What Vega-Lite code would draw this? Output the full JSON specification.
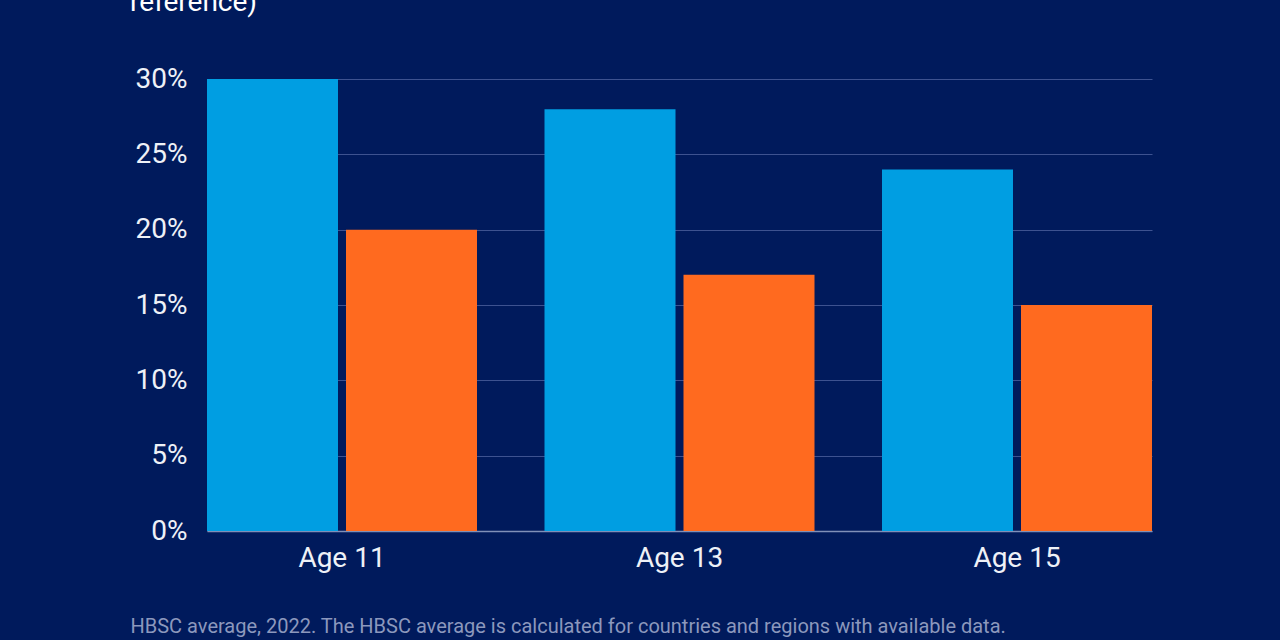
{
  "$schema": "https://vega.github.io/schema/vega-lite/v6.json",
  "width": 945,
  "height": 452,
  "autosize": {"type": "none"},
  "padding": {"left": 207, "top": 79, "right": 128, "bottom": 109},
  "background": "#001a5c",
  "title": {
    "text": "reference)",
    "anchor": "start",
    "frame": "group",
    "dx": -77,
    "offset": 26,
    "baseline": "alphabetic",
    "font": "Roboto",
    "fontSize": 28,
    "fontWeight": "normal",
    "color": "#ffffff"
  },
  "data": {
    "values": [
      {"age": "Age 11", "group": "A", "value": 30},
      {"age": "Age 11", "group": "B", "value": 20},
      {"age": "Age 13", "group": "A", "value": 28},
      {"age": "Age 13", "group": "B", "value": 17},
      {"age": "Age 15", "group": "A", "value": 24},
      {"age": "Age 15", "group": "B", "value": 15}
    ]
  },
  "mark": {"type": "bar"},
  "encoding": {
    "x": {
      "field": "age",
      "type": "nominal",
      "scale": {"paddingInner": 0.2, "paddingOuter": 0},
      "axis": {
        "title": "HBSC average, 2022. The HBSC average is calculated for countries and regions with available data.",
        "titleAnchor": "start",
        "titleAlign": "left",
        "titleX": -77,
        "titleY": 101,
        "titleBaseline": "alphabetic",
        "titleFont": "Roboto",
        "titleFontSize": 20,
        "titleFontWeight": "normal",
        "titleColor": "#8c98bd",
        "labelAngle": 0,
        "labelFont": "Roboto",
        "labelFontSize": 28,
        "labelColor": "#eef1f7",
        "labelPadding": 13,
        "ticks": false,
        "domainColor": "#8090b8",
        "domainWidth": 1.5
      }
    },
    "xOffset": {
      "field": "group",
      "type": "nominal",
      "scale": {"paddingInner": 0.0576, "paddingOuter": 0}
    },
    "y": {
      "field": "value",
      "type": "quantitative",
      "scale": {"domain": [0, 30]},
      "axis": {
        "title": null,
        "values": [0, 5, 10, 15, 20, 25, 30],
        "labelExpr": "datum.value + '%'",
        "labelFont": "Roboto",
        "labelFontSize": 28,
        "labelColor": "#eef1f7",
        "labelPadding": 20,
        "ticks": false,
        "domain": false,
        "grid": true,
        "gridColor": "#3d5290",
        "gridWidth": 1
      }
    },
    "color": {
      "field": "group",
      "type": "nominal",
      "scale": {"domain": ["A", "B"], "range": ["#009ee2", "#ff6a1f"]},
      "legend": null
    }
  },
  "config": {"view": {"stroke": null}}
}
